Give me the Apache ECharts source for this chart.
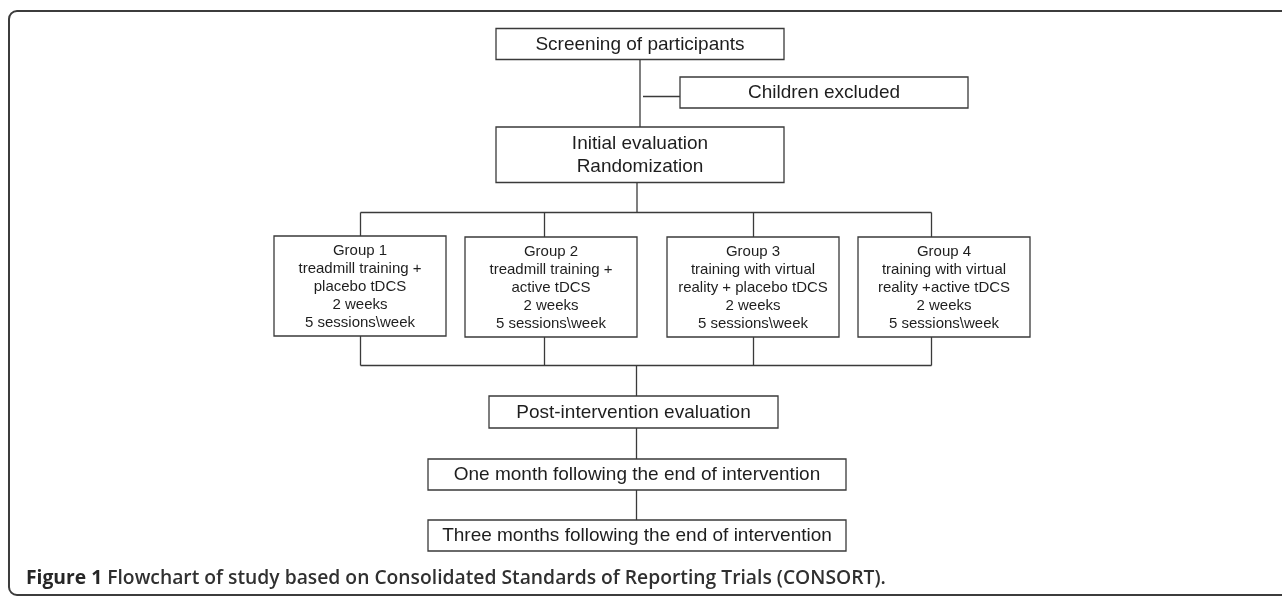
<!DOCTYPE html>
<html><head><meta charset="utf-8">
<script src="https://cdn.jsdelivr.net/npm/echarts@6/dist/echarts.min.js"></script>
<style>html,body{margin:0;padding:0;background:#fff}#c{width:1282px;height:596px}</style>
</head><body><div id="c"></div>
<script>
// ---- Data (content) ----
const boxIds = ['screen', 'excluded', 'initial', 'g1', 'g2', 'g3', 'g4', 'post', 'month1', 'month3'];
const boxTexts = [
  'Screening of participants',
  'Children excluded',
  'Initial evaluation\nRandomization',
  'Group 1\ntreadmill training +\nplacebo tDCS\n2 weeks\n5 sessions\\week',
  'Group 2\ntreadmill training +\nactive tDCS\n2 weeks\n5 sessions\\week',
  'Group 3\ntraining with virtual\nreality + placebo tDCS\n2 weeks\n5 sessions\\week',
  'Group 4\ntraining with virtual\nreality +active tDCS\n2 weeks\n5 sessions\\week',
  'Post-intervention evaluation',
  'One month following the end of intervention',
  'Three months following the end of intervention'
];
const captionLabel = 'Figure 1';
const captionText = 'Flowchart of study based on Consolidated Standards of Reporting Trials (CONSORT).';

// ---- Layout (positions in layout units on hidden axes) ----
const boxLayout = {
  screen:   {x0: 496, x1: 784, y0: 28.5, y1: 59.5, fs: 19, lh: 22},
  excluded: {x0: 680, x1: 968, y0: 77,   y1: 108,  fs: 19, lh: 22},
  initial:  {x0: 496, x1: 784, y0: 127,  y1: 182.5, fs: 19, lh: 22.5},
  g1:       {x0: 274, x1: 446, y0: 236,  y1: 336,  fs: 15, lh: 18},
  g2:       {x0: 465, x1: 637, y0: 237,  y1: 337,  fs: 15, lh: 18},
  g3:       {x0: 667, x1: 839, y0: 237,  y1: 337,  fs: 15, lh: 18},
  g4:       {x0: 858, x1: 1030, y0: 237, y1: 337,  fs: 15, lh: 18},
  post:     {x0: 489, x1: 778, y0: 396,  y1: 428,  fs: 19, lh: 22},
  month1:   {x0: 428, x1: 846, y0: 459,  y1: 490,  fs: 19, lh: 22},
  month3:   {x0: 428, x1: 846, y0: 520,  y1: 551,  fs: 19, lh: 22}
};
const connectorLayout = [
  [[640, 59.5], [640, 127]],
  [[643, 96.5], [680, 96.5]],
  [[637, 182.5], [637, 212.5]],
  [[360.5, 212.5], [931.5, 212.5]],
  [[360.5, 212.5], [360.5, 236]],
  [[544.5, 212.5], [544.5, 237]],
  [[753.5, 212.5], [753.5, 237]],
  [[931.5, 212.5], [931.5, 237]],
  [[360.5, 336], [360.5, 365.5]],
  [[544.5, 337], [544.5, 365.5]],
  [[753.5, 337], [753.5, 365.5]],
  [[931.5, 337], [931.5, 365.5]],
  [[360.5, 365.5], [931.5, 365.5]],
  [[636.5, 365.5], [636.5, 396]],
  [[636.5, 428], [636.5, 459]],
  [[636.5, 490], [636.5, 520]]
];

const LINE = '#3a3a3a';
const TEXT = '#1e1e1e';

const chart = echarts.init(document.getElementById('c'), null, {renderer: 'canvas'});
chart.setOption({
  animation: false,
  backgroundColor: '#ffffff',
  grid: {left: 0, right: 0, top: 0, bottom: 0},
  xAxis: {type: 'value', min: 0, max: 1282, show: false},
  yAxis: {type: 'value', min: 0, max: 596, inverse: true, show: false},
  title: {
    text: '{b|' + captionLabel + '} {r|' + captionText + '}',
    left: 26, top: 567, padding: 0,
    textStyle: {
      rich: {
        b: {fontFamily: '"Open Sans"', fontWeight: 'bold', fontSize: 19.3, color: '#262626', lineHeight: 24},
        r: {fontFamily: '"Open Sans"', fontWeight: 600, fontSize: 19.3, color: '#303030', lineHeight: 24}
      }
    }
  },
  graphic: [{
    type: 'rect', silent: true,
    shape: {x: 9, y: 11, width: 1400, height: 584, r: [8, 0, 0, 8]},
    style: {fill: null, stroke: '#3c3c3c', lineWidth: 2}
  }],
  series: [
    {
      type: 'custom', coordinateSystem: 'cartesian2d', silent: true,
      data: connectorLayout.map((c, i) => [i]),
      renderItem: function (params, api) {
        const seg = connectorLayout[params.dataIndex];
        const p0 = api.coord(seg[0]);
        const p1 = api.coord(seg[1]);
        return {
          type: 'line',
          shape: {x1: p0[0], y1: p0[1], x2: p1[0], y2: p1[1]},
          style: {stroke: LINE, lineWidth: 1.3}
        };
      }
    },
    {
      type: 'custom', coordinateSystem: 'cartesian2d', silent: true,
      data: boxIds.map((id, i) => [i]),
      renderItem: function (params, api) {
        const id = boxIds[params.dataIndex];
        const L = boxLayout[id];
        const a = api.coord([L.x0, L.y0]);
        const b = api.coord([L.x1, L.y1]);
        return {
          type: 'group',
          children: [
            {
              type: 'rect',
              shape: {x: a[0], y: a[1], width: b[0] - a[0], height: b[1] - a[1]},
              style: {fill: '#ffffff', stroke: LINE, lineWidth: 1.3}
            },
            {
              type: 'text',
              style: {
                text: boxTexts[params.dataIndex],
                x: (a[0] + b[0]) / 2, y: (a[1] + b[1]) / 2 + 0.5,
                align: 'center', verticalAlign: 'middle',
                fontFamily: '"Liberation Sans", Arial, sans-serif',
                fontSize: L.fs, lineHeight: L.lh, fill: TEXT
              }
            }
          ]
        };
      }
    }
  ]
});
</script>
</body></html>
